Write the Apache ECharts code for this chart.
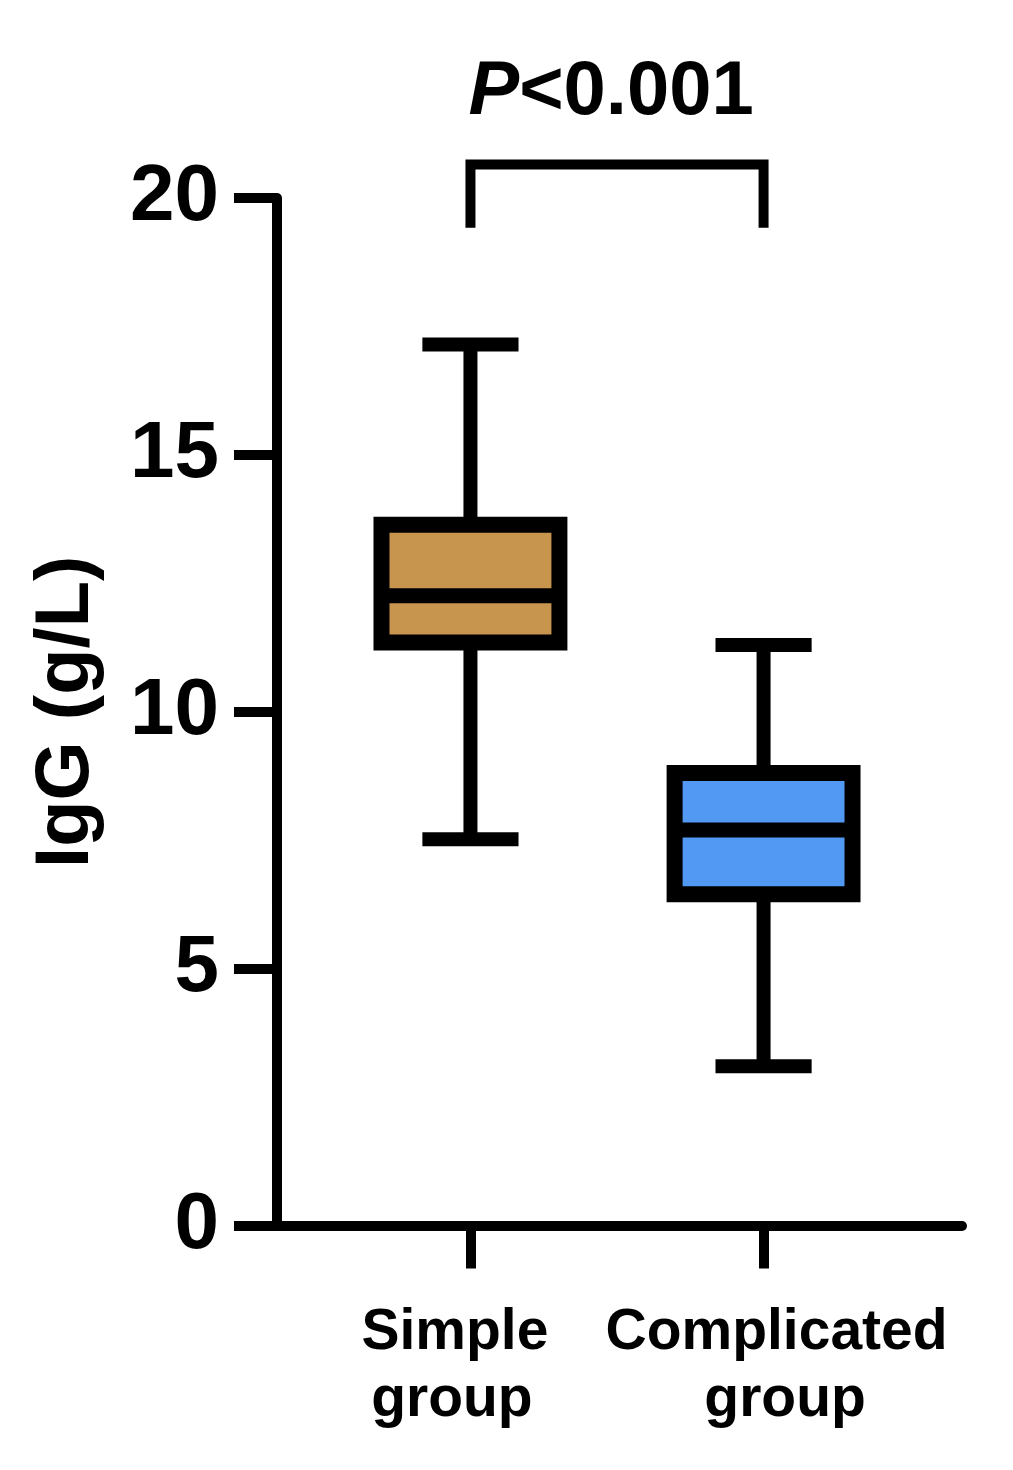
<!DOCTYPE html>
<html>
<head>
<meta charset="utf-8">
<script src="https://cdn.jsdelivr.net/npm/echarts@6/dist/echarts.min.js"></script>
<style>
  html, body { margin: 0; padding: 0; background: #fff; }
  #chart { width: 1013px; height: 1470px; }
</style>
</head>
<body>
<div id="chart"></div>
<script type="text/javascript">
  // data (g/L)
  var groups = ['Simple group', 'Complicated group'];
  var minVals = [7.52, 3.10];
  var q1Vals = [11.35, 6.45];
  var medianVals = [12.26, 7.70];
  var q3Vals = [13.64, 8.81];
  var maxVals = [17.15, 11.30];
  var yTicks = [0, 5, 10, 15, 20];
  var pText = 'P<0.001';

  var boxColors = ['#C8954F', '#5199F2'];
  var FONT = "'Liberation Sans', Arial, Helvetica, sans-serif";

  var boxData = groups.map(function (g, i) {
    return [i, minVals[i], q1Vals[i], medianVals[i], q3Vals[i], maxVals[i]];
  });

  var BOX_W = 0.607;   // box width in x units
  var CAP_W = 0.328;   // whisker cap width in x units

  function renderBox(params, api) {
    var i = params.dataIndex;
    var x = api.value(0);
    var pMin = api.coord([x, api.value(1)]);
    var pQ1 = api.coord([x, api.value(2)]);
    var pMed = api.coord([x, api.value(3)]);
    var pQ3 = api.coord([x, api.value(4)]);
    var pMax = api.coord([x, api.value(5)]);
    var halfBox = api.size([BOX_W, 0])[0] / 2;
    var halfCap = api.size([CAP_W, 0])[0] / 2;
    var cx = pMed[0];
    var line = {stroke: '#000', lineWidth: 14, lineCap: 'butt'};
    return {
      type: 'group',
      children: [
        {type: 'line', shape: {x1: cx, y1: pMax[1], x2: cx, y2: pQ3[1]}, style: line},
        {type: 'line', shape: {x1: cx, y1: pQ1[1], x2: cx, y2: pMin[1]}, style: line},
        {type: 'line', shape: {x1: cx - halfCap, y1: pMax[1], x2: cx + halfCap, y2: pMax[1]}, style: line},
        {type: 'line', shape: {x1: cx - halfCap, y1: pMin[1], x2: cx + halfCap, y2: pMin[1]}, style: line},
        {
          type: 'rect',
          shape: {x: cx - halfBox, y: pQ3[1], width: halfBox * 2, height: pQ1[1] - pQ3[1]},
          style: {fill: boxColors[i], stroke: '#000', lineWidth: 16, lineJoin: 'miter'}
        },
        {type: 'line', shape: {x1: cx - halfBox, y1: pMed[1], x2: cx + halfBox, y2: pMed[1]},
          style: {stroke: '#000', lineWidth: 15}}
      ]
    };
  }

  // significance bracket between the two groups
  function renderBracket(params, api) {
    var a = api.value(0), b = api.value(1);
    var topL = api.coord([a, 20.65]);
    var topR = api.coord([b, 20.65]);
    var botL = api.coord([a, 19.42]);
    var botR = api.coord([b, 19.42]);
    var txt = api.coord([(a + b) / 2 - 0.02, 22.04]);
    return {
      type: 'group',
      children: [
        {
          type: 'polyline',
          shape: {points: [botL, topL, topR, botR]},
          style: {stroke: '#000', lineWidth: 10, fill: null, lineJoin: 'miter'}
        },
        {
          type: 'text', x: txt[0], y: txt[1],
          style: {
            text: '{i|P}' + pText.slice(1),
            fontSize: 76, fontWeight: 'bold', fontFamily: FONT, fill: '#000',
            align: 'center', verticalAlign: 'middle',
            rich: {i: {fontStyle: 'italic', fontWeight: 'bold', fontSize: 76, fontFamily: FONT}}
          }
        }
      ]
    };
  }

  var labelRich = {
    s1: {fontSize: 57, fontWeight: 'bold', fontFamily: FONT, color: '#000', lineHeight: 67, padding: [0, 31, 0, 0]},
    s2: {fontSize: 57, fontWeight: 'bold', fontFamily: FONT, color: '#000', lineHeight: 67, padding: [0, 37, 0, 0]},
    c1: {fontSize: 57, fontWeight: 'bold', fontFamily: FONT, color: '#000', lineHeight: 67, padding: [0, 0, 0, 26]},
    c2: {fontSize: 57, fontWeight: 'bold', fontFamily: FONT, color: '#000', lineHeight: 67, padding: [0, 0, 0, 43]}
  };

  var myChart = echarts.init(document.getElementById('chart'), null, {renderer: 'canvas'});
  var option = {
    backgroundColor: '#fff',
    animation: false,
    grid: {left: 277, right: 51, top: 198, bottom: 244.5, containLabel: false},
    xAxis: {
      type: 'value',
      min: -0.66,
      max: 1.677,
      splitLine: {show: false},
      axisLine: {show: true, onZero: false, lineStyle: {color: '#000', width: 10}},
      axisTick: {show: true, customValues: [0, 1], length: 43, lineStyle: {color: '#000', width: 10}},
      axisLabel: {
        show: true,
        customValues: [0, 1],
        margin: 74,
        formatter: function (v) {
          var parts = groups[Math.round(v)].split(' ');
          var k = Math.round(v) === 0 ? 's' : 'c';
          return '{' + k + '1|' + parts[0] + '}\n{' + k + '2|' + parts[1] + '}';
        },
        rich: labelRich
      }
    },
    yAxis: {
      type: 'value',
      min: yTicks[0],
      max: yTicks[yTicks.length - 1],
      interval: 5,
      name: 'IgG (g/L)',
      nameLocation: 'middle',
      nameGap: 172,
      nameTextStyle: {fontSize: 76, fontWeight: 'bold', fontFamily: FONT, color: '#000'},
      splitLine: {show: false},
      axisLine: {show: true, onZero: false, lineStyle: {color: '#000', width: 10}},
      axisTick: {show: true, length: 43, lineStyle: {color: '#000', width: 10}},
      axisLabel: {fontSize: 80, fontWeight: 'bold', fontFamily: FONT, color: '#000', margin: 58}
    },
    series: [
      {
        type: 'custom',
        name: 'IgG',
        renderItem: renderBox,
        encode: {x: 0, y: [1, 2, 3, 4, 5]},
        data: boxData,
        z: 3
      },
      {
        type: 'custom',
        name: 'bracket',
        renderItem: renderBracket,
        encode: {x: [0, 1]},
        data: [[0, 1]],
        clip: false,
        z: 3
      }
    ]
  };
  myChart.setOption(option);
</script>
</body>
</html>
